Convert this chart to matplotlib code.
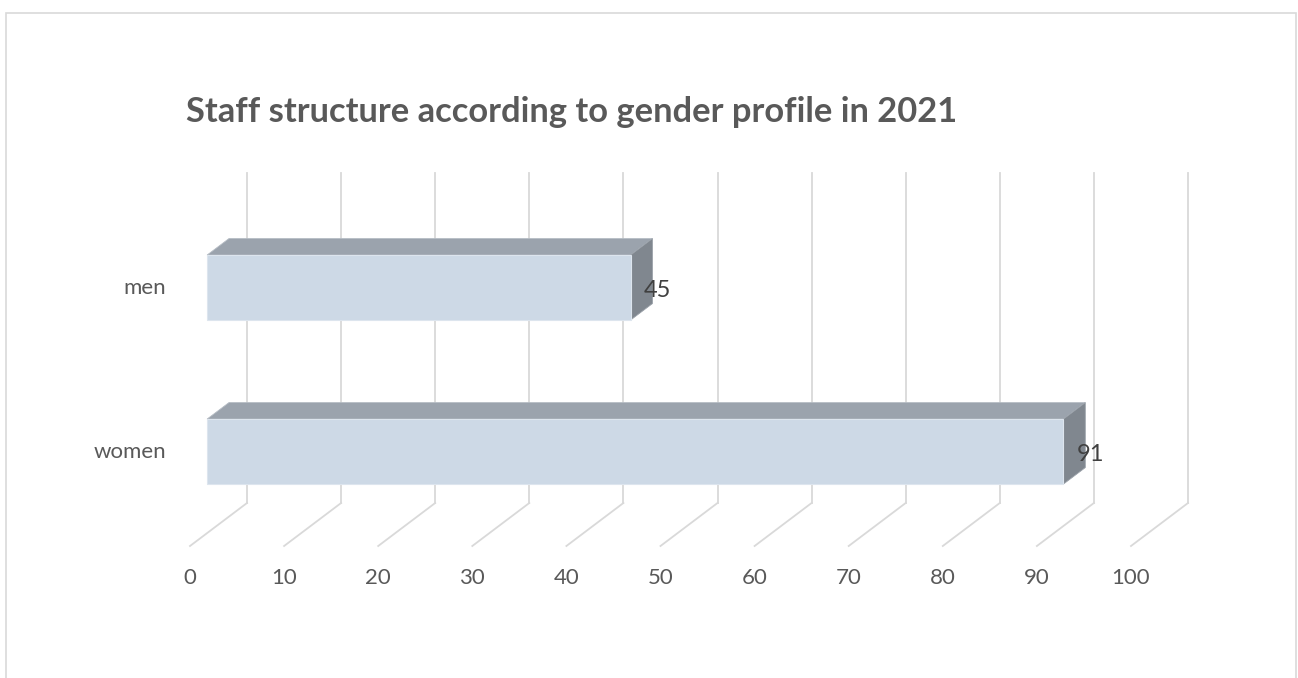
import numpy as np
import matplotlib
matplotlib.use("Agg")
import matplotlib.pyplot as plt
from matplotlib.patches import Polygon, Rectangle

# data
categories = ["women", "men"]
values = [91, 45]
ticks = list(range(0, 101, 10))
title = "Staff structure according to gender profile in 2021"

plt.rcParams['font.family'] = ['Lato', 'DejaVu Sans']

W, H = 1298, 678
fig = plt.figure(figsize=(W / 100, H / 100), dpi=100)

# axes in pixel layout (front plane, depth 0)
x0px, x1px = 190, 1131
ytop, ybot = 216, 546
ax = fig.add_axes([x0px / W, 1 - ybot / H, (x1px - x0px) / W, (ybot - ytop) / H])
ax.set_xlim(0, 100)
ax.set_ylim(-0.497, 1.515)
ax.axis('off')

# depth offsets (pixels for full depth) converted to data units
DEPTH_PX = (57, 43)
px_x = (x1px - x0px) / 100.0
px_y = (ybot - ytop) / (1.515 + 0.497)
DX = DEPTH_PX[0] / px_x
DY = DEPTH_PX[1] / px_y


def proj(x, y, d):
    return (x + d * DX, y + d * DY)


grid_c = '#d9d9d9'
y_lo, y_hi = ax.get_ylim()
for t in ticks:
    # back wall vertical line
    a = proj(t, y_lo, 1)
    b = proj(t, y_hi, 1)
    ax.plot([a[0], b[0]], [a[1], b[1]], color=grid_c, lw=1.3, clip_on=False, zorder=1)
    # floor diagonal
    c = proj(t, y_lo, 0)
    ax.plot([c[0], a[0]], [c[1], a[1]], color=grid_c, lw=1.3, clip_on=False, zorder=1)
    ax.text(t, y_lo - 32 / px_y, str(t), ha='center', va='center',
            fontsize=16, color='#595959')

bar_h = 65 / px_y
d_front, d_back = 0.30, 0.684
front_c, top_c, side_c = '#cdd9e6', '#9ba3ad', '#80878f'

for i, (cat, v) in enumerate(zip(categories, values)):
    yc = i
    yl, yh = yc - bar_h / 2, yc + bar_h / 2
    # front face
    f = [proj(0, yl, d_front), proj(v, yl, d_front), proj(v, yh, d_front), proj(0, yh, d_front)]
    # top face
    tp = [proj(0, yh, d_front), proj(v, yh, d_front), proj(v, yh, d_back), proj(0, yh, d_back)]
    # right side
    sd = [proj(v, yl, d_front), proj(v, yl, d_back), proj(v, yh, d_back), proj(v, yh, d_front)]
    ax.add_patch(Polygon(tp, closed=True, facecolor=top_c, edgecolor='#b5bcc4', lw=0.6, clip_on=False, zorder=3))
    ax.add_patch(Polygon(sd, closed=True, facecolor=side_c, edgecolor='#9aa1a9', lw=0.6, clip_on=False, zorder=3))
    ax.add_patch(Polygon(f, closed=True, facecolor=front_c, edgecolor='#dde5ee', lw=0.8, clip_on=False, zorder=4))
    lx, ly = proj(v, yc, d_front)
    ax.text(lx + 13 / px_x, ly - 3 / px_y, str(v), ha='left', va='center', fontsize=17,
            color='#404040', zorder=5)
    cx, cy = proj(0, yc, d_front)
    ax.text(-24 / px_x, cy, cat, ha='right', va='center', fontsize=16,
            color='#595959')

fig.text(186 / W, 1 - 112 / H, title, ha='left', va='center', fontsize=24.8,
         fontweight='bold', color='#595959')

fig.add_artist(Rectangle((6 / W, -0.05), (1296 - 6) / W, 1.05 - 13 / H,
                         transform=fig.transFigure, fill=False,
                         edgecolor='#d9d9d9', lw=1.2))

fig.savefig('out.png', dpi=100)
